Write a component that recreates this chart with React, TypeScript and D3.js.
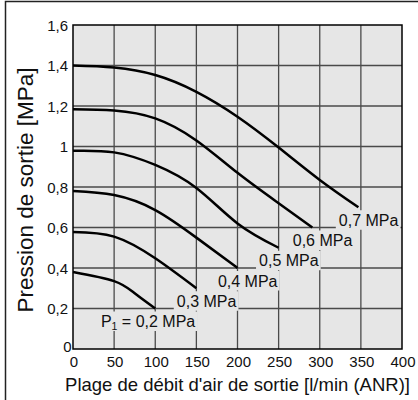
import React, { useEffect, useRef } from "react";
import * as d3 from "d3";

// axis ticks
const flowTicks = [0, 50, 100, 150, 200, 250, 300, 350, 400];
const pressTicks = [0, 0.2, 0.4, 0.6, 0.8, 1, 1.2, 1.4, 1.6];
const pressTickLabels = ["0", "0,2", "0,4", "0,6", "0,8", "1", "1,2", "1,4", "1,6"];

// set pressure curves (flow l/min ANR -> outlet pressure MPa)
const flow02 = [0, 50, 75, 100];
const out02 = [0.38, 0.335, 0.275, 0.2];
const flow03 = [0, 50, 100, 150];
const out03 = [0.578, 0.555, 0.448, 0.3];
const flow04 = [0, 50, 100, 150, 200];
const out04 = [0.78, 0.76, 0.686, 0.55, 0.4];
const flow05 = [0, 50, 100, 150, 200, 250];
const out05 = [0.979, 0.971, 0.909, 0.795, 0.62, 0.5];
const flow06 = [0, 50, 100, 150, 200, 250, 291];
const out06 = [1.184, 1.178, 1.139, 1.03, 0.87, 0.72, 0.6];
const flow07 = [0, 50, 100, 150, 200, 250, 300, 347];
const out07 = [1.4, 1.39, 1.353, 1.27, 1.147, 0.995, 0.835, 0.7];

const curveLabels = ["0,2 MPa", "0,3 MPa", "0,4 MPa", "0,5 MPa", "0,6 MPa", "0,7 MPa"];

const font = "'Liberation Sans', Arial, Helvetica, sans-serif";

export default function App() {
  const ref = useRef<SVGSVGElement>(null);

  useEffect(() => {
    const width = 418, height = 400;
    const margin = { top: 25, right: 16, bottom: 51, left: 73 };
    const svg = d3.select(ref.current);
    svg.selectAll("*").remove();

    const x = d3.scaleLinear().domain([0, 400]).range([margin.left, width - margin.right]);
    const y = d3.scaleLinear().domain([0, 1.6]).range([height - margin.bottom, margin.top]);

    // outer frame (top + left only)
    svg.append("path")
      .attr("d", "M5.5,400 V1.5 H418")
      .attr("fill", "none")
      .attr("stroke", "#222")
      .attr("stroke-width", 1.5);

    // plot background
    svg.append("rect")
      .attr("x", x(0)).attr("y", y(1.6))
      .attr("width", x(400) - x(0)).attr("height", y(0) - y(1.6))
      .attr("fill", "#e6e6e6");

    const grid = svg.append("g").attr("stroke", "#4a4a4a").attr("stroke-width", 1.3);
    grid.selectAll("line.v").data(flowTicks.slice(1, -1)).enter().append("line")
      .attr("x1", d => x(d)).attr("x2", d => x(d))
      .attr("y1", y(0)).attr("y2", y(1.6));
    grid.selectAll("line.h").data(pressTicks.slice(1, -1)).enter().append("line")
      .attr("y1", d => y(d)).attr("y2", d => y(d))
      .attr("x1", x(0)).attr("x2", x(400));

    const series = [
      [flow02, out02], [flow03, out03], [flow04, out04],
      [flow05, out05], [flow06, out06], [flow07, out07],
    ];

    const line = d3.line<[number, number]>()
      .x(d => x(d[0])).y(d => y(d[1]))
      .curve(d3.curveNatural);

    // labels with background patches hiding the grid
    const labels = svg.append("g");
    series.forEach(([fx, py], i) => {
      const ex = x(fx[fx.length - 1]);
      const ey = y(py[py.length - 1]);
      const g = labels.append("g");
      const t = g.append("text")
        .attr("x", ex + 40).attr("y", ey + 18.5)
        .attr("text-anchor", "end")
        .attr("font-family", font).attr("font-size", 16).attr("fill", "#111");
      if (i === 0) {
        t.append("tspan").text("P");
        t.append("tspan").attr("font-size", 10.5).attr("dy", 3).text("1");
        t.append("tspan").attr("dy", -3).text(" = " + curveLabels[i]);
      } else {
        t.text(curveLabels[i]);
      }
      const bb = (t.node() as SVGTextElement).getBBox();
      g.insert("rect", "text")
        .attr("x", bb.x - 3).attr("y", ey + 3)
        .attr("width", bb.width + 5).attr("height", 19.5)
        .attr("fill", "#e6e6e6");
    });

    svg.append("g").selectAll("path").data(series).enter().append("path")
      .attr("d", ([fx, py]) => line(fx.map((v, k) => [v, py[k]] as [number, number])))
      .attr("fill", "none")
      .attr("stroke", "#000")
      .attr("stroke-width", 2.5);

    // plot border
    svg.append("rect")
      .attr("x", x(0)).attr("y", y(1.6))
      .attr("width", x(400) - x(0)).attr("height", y(0) - y(1.6))
      .attr("fill", "none").attr("stroke", "#000").attr("stroke-width", 1.5);

    // x tick labels
    svg.append("g").selectAll("text").data(flowTicks).enter().append("text")
      .attr("x", d => x(d) + 1).attr("y", y(0) + 18)
      .attr("text-anchor", "middle")
      .attr("font-family", font).attr("font-size", 15).attr("fill", "#111")
      .text(d => String(d));

    // y tick labels
    svg.append("g").selectAll("text").data(pressTicks).enter().append("text")
      .attr("x", (d, i) => (i === 0 ? x(0) - 1.5 : x(0) - 5))
      .attr("y", (d, i) => (i === 0 ? y(d) + 3 : y(d) + 5.5))
      .attr("text-anchor", "end")
      .attr("font-family", font).attr("font-size", 15).attr("fill", "#111")
      .text((d, i) => pressTickLabels[i]);

    // axis titles
    svg.append("text")
      .attr("x", (x(0) + x(400)) / 2).attr("y", 391)
      .attr("text-anchor", "middle")
      .attr("font-family", font).attr("font-size", 18.5).attr("fill", "#111")
      .text("Plage de débit d'air de sortie [l/min (ANR)]");

    svg.append("text")
      .attr("transform", `translate(33,190) rotate(-90)`)
      .attr("text-anchor", "middle")
      .attr("font-family", font).attr("font-size", 22.5).attr("fill", "#111")
      .text("Pression de sortie [MPa]");
  }, []);

  return (
    <svg ref={ref} width={418} height={400}
      style={{ position: "absolute", left: 0, top: 0, background: "#fff" }} />
  );
}
